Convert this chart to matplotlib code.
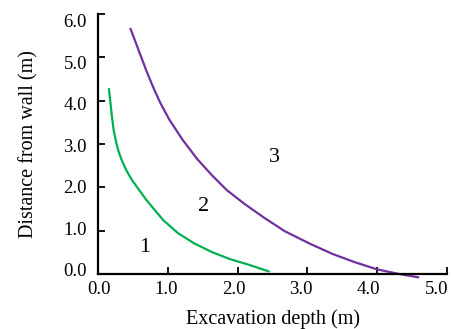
import matplotlib
matplotlib.use("Agg")
import matplotlib.pyplot as plt
import matplotlib.transforms as mtransforms

# curve 1 (green)
x1 = [0.157, 0.174, 0.197, 0.224, 0.263, 0.297, 0.339, 0.407, 0.486, 0.693,
      0.933, 1.143, 1.376, 1.629, 1.886, 2.171, 2.443]
y1 = [4.263, 4.016, 3.669, 3.323, 3.023, 2.816, 2.631, 2.389, 2.169, 1.708,
      1.246, 0.946, 0.709, 0.508, 0.346, 0.208, 0.062]

# curve 2 (purple)
x2 = [0.467, 0.543, 0.621, 0.700, 0.786, 0.886, 1.019, 1.214, 1.421, 1.629,
      1.843, 2.100, 2.386, 2.671, 3.029, 3.361, 3.671, 3.996, 4.314, 4.586]
y2 = [5.654, 5.331, 4.997, 4.662, 4.327, 3.970, 3.570, 3.093, 2.654, 2.285,
      1.939, 1.616, 1.292, 0.992, 0.704, 0.462, 0.277, 0.108, 0.000, -0.076]

regions = ["1", "2", "3"]
reg_x = [0.67, 1.51, 2.53]
reg_y = [0.60, 1.55, 2.68]

xticks = [0.0, 1.0, 2.0, 3.0, 4.0, 5.0]
yticks = [0.0, 1.0, 2.0, 3.0, 4.0, 5.0, 6.0]

plt.rcParams['font.family'] = ['Liberation Serif', 'DejaVu Serif']

fig = plt.figure(figsize=(4.54, 3.29), dpi=100)
ax = fig.add_axes([98/454, (329-274)/329, (447-98)/454, (274-14)/329])

ax.plot(x1, y1, color='#00b050', lw=1.6, clip_on=False)
ax.plot(x2, y2, color='#7030a0', lw=1.6, clip_on=False)

for t, xx, yy in zip(regions, reg_x, reg_y):
    ax.text(xx, yy, t, fontsize=16, ha='center', va='center')

ax.set_xlim(0, 5)
ax.set_ylim(0, 6)
ax.set_xticks(xticks)
ax.set_yticks(yticks)
ax.set_xticklabels(['%.1f' % v for v in xticks])
ax.set_yticklabels(['%.1f' % v for v in yticks])
ax.spines['top'].set_visible(False)
ax.spines['right'].set_visible(False)
ax.spines['left'].set_linewidth(1.6)
ax.spines['bottom'].set_linewidth(1.6)
ax.tick_params(direction='in', length=5, width=1.3, labelsize=13.5)
ax.tick_params(axis='x', pad=5)
ax.tick_params(axis='y', pad=8)

# tick labels in the original sit a bit closer together than the ticks
for i, lab in enumerate(ax.get_xticklabels()):
    off = mtransforms.ScaledTranslation((0.8 - 2.3*i)/100, 0, fig.dpi_scale_trans)
    lab.set_transform(lab.get_transform() + off)
for i, lab in enumerate(ax.get_yticklabels()):
    off = mtransforms.ScaledTranslation(0, (4 - 1.83*i)/100, fig.dpi_scale_trans)
    lab.set_transform(lab.get_transform() + off)

ax.set_xlabel('Excavation depth (m)', fontsize=14.5, labelpad=8)
ax.set_ylabel('Distance from wall (m)', fontsize=14.5, labelpad=18)

fig.savefig('out.png', dpi=100)
